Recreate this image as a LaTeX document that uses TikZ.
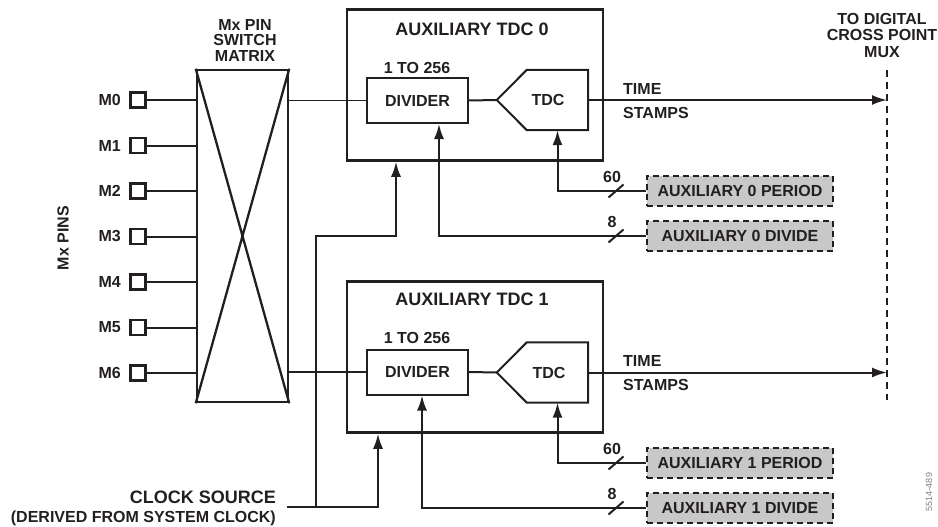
\documentclass[tikz,border=0pt]{standalone}
\usepackage{fontspec}
\setmainfont{Liberation Sans}
\usetikzlibrary{arrows.meta,calc}
\definecolor{ink}{RGB}{35,31,32}
\definecolor{boxgray}{RGB}{200,200,200}
\begin{document}
\begin{tikzpicture}[x=1pt,y=-1pt,
  every node/.style={font=\fontsize{16}{17}\selectfont\bfseries, text=ink, inner sep=0pt},
  titlefont/.style={font=\fontsize{18}{19}\selectfont\bfseries},
  bigbox/.style={draw=ink, line width=2.5pt, minimum width=256, minimum height=151},
  divbox/.style={draw=ink, line width=2pt, minimum width=101, minimum height=45},
  tdcbody/.style={minimum width=61, minimum height=60},
  tdcline/.style={draw=ink, line width=2pt, line join=miter},
  pinbox/.style={draw=ink, line width=2.2pt, minimum size=15},
  regbox/.style={draw=ink, fill=boxgray, line width=2pt, dash pattern=on 6pt off 4pt, minimum width=186, minimum height=30},
  wire/.style={draw=ink, line width=2pt},
  thinwire/.style={draw=ink, line width=1.4pt},
  arr/.style={-{Latex[length=15pt,width=10pt]}},
  muxline/.style={draw=ink, line width=1.5pt, dash pattern=on 7pt off 5pt},
]
\useasboundingbox (0,0) rectangle (938,527);

% switch matrix
\node[draw=ink, line width=2.5pt, minimum width=91, minimum height=332] (mat) at (242.5,236) {};
\draw[draw=ink, line width=2.3pt] (mat.north west) -- (mat.south east) (mat.north east) -- (mat.south west);
\node[align=center, font=\fontsize{16}{15.5}\selectfont\bfseries] (matt) at (245,40) {Mx PIN\\SWITCH\\MATRIX};

% pins
\foreach \i/\y in {0/100,1/145.5,2/191,3/236.5,4/282,5/327.5,6/373}{
  \node[pinbox] (p\i) at (138,\y) {};
  \node[anchor=east] (pl\i) at (121,\y) {M\i};
  \draw[wire] (p\i.east) -- (p\i.east -| mat.west);
}
\node[rotate=90] (pins) at (63,238) {Mx PINS};

% auxiliary TDC 0
\node[bigbox] (aux0) at (475,85) {};
\node[titlefont] (aux0t) at (472,29) {AUXILIARY TDC 0};
\node[divbox] (div0) at (417.5,100.5) {DIVIDER};
\node (r0) at (417,68) {1 TO 256};
\node[tdcbody] (tdc0) at (557.5,100) {};
\node (tdc0l) at (548,100) {TDC};
\coordinate (tip0) at ($(tdc0.west)+(-30,0)$);
\draw[tdcline] (tdc0.north west) -- (tdc0.north east) -- (tdc0.south east) -- (tdc0.south west) -- (tip0) -- cycle;

% auxiliary TDC 1
\node[bigbox] (aux1) at (475,357) {};
\node[titlefont] (aux1t) at (472,299) {AUXILIARY TDC 1};
\node[divbox] (div1) at (417.5,372) {DIVIDER};
\node (r1) at (417,338) {1 TO 256};
\node[tdcbody] (tdc1) at (557.5,372.5) {};
\node (tdc1l) at (549,372.5) {TDC};
\coordinate (tip1) at ($(tdc1.west)+(-30,0)$);
\draw[tdcline] (tdc1.north west) -- (tdc1.north east) -- (tdc1.south east) -- (tdc1.south west) -- (tip1) -- cycle;

% matrix outputs
\draw[thinwire] (mat.east |- div0.west) -- (div0.west);
\draw[thinwire] (mat.east |- div1.west) -- (div1.west);
\draw[wire] (div0.east) -- (tip0);
\draw[wire] (div1.east) -- (tip1);

% mux
\coordinate (mux0) at (887,100);
\coordinate (mux1) at (887,372.5);
\coordinate (muxtop) at (887,70);
\coordinate (muxbot) at (887,400);
\draw[muxline] (muxtop) -- (muxbot);
\node[align=center, font=\fontsize{16}{16.5}\selectfont\bfseries] (muxt) at (882,35) {TO DIGITAL\\CROSS POINT\\MUX};
\draw[wire, arr] (tdc0.east) -- (mux0);
\draw[wire, arr] (tdc1.east) -- (mux1);
\node[anchor=west] (ts0a) at (623,89) {TIME};
\node[anchor=west] (ts0b) at (623,113) {STAMPS};
\node[anchor=west] (ts1a) at (623,361) {TIME};
\node[anchor=west] (ts1b) at (623,385) {STAMPS};

% registers
\node[regbox] (per0) at (740,191) {AUXILIARY 0 PERIOD};
\node[regbox] (dvd0) at (740,236) {AUXILIARY 0 DIVIDE};
\node[regbox] (per1) at (740,463) {AUXILIARY 1 PERIOD};
\node[regbox] (dvd1) at (740,508) {AUXILIARY 1 DIVIDE};
\draw[wire, arr] (per0.west) -| (tdc0.south);
\draw[wire, arr] (dvd0.west) -| ([xshift=21.5pt]div0.south);
\draw[wire, arr] (per1.west) -| (tdc1.south);
\draw[wire, arr] (dvd1.west) -| ([xshift=4.5pt]div1.south);
\foreach \r/\t in {per0/60,dvd0/8,per1/60,dvd1/8}{
  \draw[wire] ($(\r.west)+(-37.5,6.5)$) -- ($(\r.west)+(-22.5,-6.5)$);
  \node (w\r) at ($(\r.west)+(-34,-14)$) {\t};
}

% clock
\node[anchor=east, titlefont] (clk1) at (276,497) {CLOCK SOURCE};
\node[anchor=east] (clk2) at (276,518) {(DERIVED FROM SYSTEM CLOCK)};
\coordinate (clk) at (287,507);
\coordinate (trunk) at (316,507);
\draw[wire, arr] (clk) -| ([xshift=-97pt]aux1.south);
\draw[wire, arr] (trunk) |- (396,236) -- ([xshift=-79pt]aux0.south);

\node[rotate=90, font=\fontsize{9}{9}\selectfont, text=gray] (fig) at (929,492) {5514-489};
\end{tikzpicture}
\end{document}
